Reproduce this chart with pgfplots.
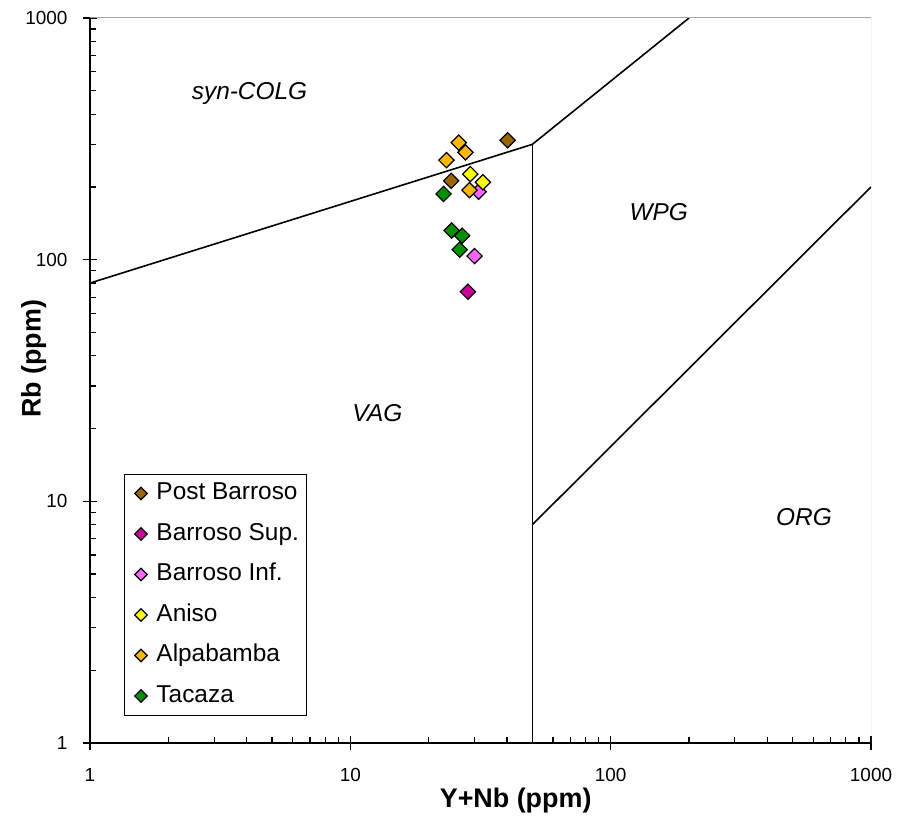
\documentclass[border=0pt]{standalone}
\usepackage{fontspec}
\setmainfont{Liberation Sans}
\usepackage{pgfplots}
\pgfplotsset{compat=1.18}

\definecolor{cpost}{HTML}{996600}
\definecolor{csup}{HTML}{CC0099}
\definecolor{cinf}{HTML}{FF66FF}
\definecolor{caniso}{HTML}{FFFF00}
\definecolor{calpa}{HTML}{FFB800}
\definecolor{ctaca}{HTML}{009000}

\pgfplotsset{
  pt/.style={only marks, mark=square*, mark size=5.4bp,
    mark options={rotate=45, draw=black, line width=1.2bp, fill=#1}},
}

\begin{document}
\begin{tikzpicture}
\useasboundingbox (-90bp,-82bp) rectangle (808bp,743bp);
\begin{axis}[
  at={(0,0)}, anchor=south west,
  scale only axis, width=781bp, height=725bp,
  xmode=log, ymode=log,
  xmin=1, xmax=1000, ymin=1, ymax=1000,
  axis x line*=bottom, axis y line*=left,
  axis line style={line width=1.6bp, -},
  xtick={1,10,100,1000}, xticklabels={1,10,100,1000},
  ytick={1,10,100,1000}, yticklabels={1,10,100,1000},
  minor xtick={2,3,4,5,6,7,8,9,20,30,40,50,60,70,80,90,200,300,400,500,600,700,800,900},
  minor ytick={2,3,4,5,6,7,8,9,20,30,40,50,60,70,80,90,200,300,400,500,600,700,800,900},
  tick align=inside,
  major tick length=7bp, minor tick length=6bp,
  tick style={line width=1.2bp, black},
  extra x ticks={1,10,100,1000}, extra x tick labels={},
  extra y ticks={1,10,100,1000}, extra y tick labels={},
  extra tick style={tick align=outside, major tick length=7bp},
  ticklabel style={font=\fontsize{19}{22}\selectfont},
  xticklabel style={yshift=-22bp},
  yticklabel style={xshift=-19bp},
  xlabel={Y+Nb (ppm)}, ylabel={Rb (ppm)},
  label style={font=\bfseries\fontsize{27}{30}\selectfont},
  xlabel style={at={(axis description cs:0.545,-0.08)}, anchor=center},
  ylabel style={at={(axis description cs:-0.072,0.53)}, anchor=center},
  legend style={at={(axis description cs:0.0435,0.371)}, anchor=north west,
    draw=black, line width=1bp, inner sep=6bp, row sep=14.5bp,
    font=\fontsize{24.5}{27}\selectfont,
    nodes={inner sep=2bp, text height=17bp, text depth=5bp}},
  legend cell align=left,
  legend image code/.code={%
    \path (0bp,0bp) (23bp,0bp);
    \draw[#1, mark size=4.4bp] plot coordinates {(10bp,0bp)};},
]
\addplot[black, line width=1.6bp, forget plot] coordinates {(1,80) (50,300) (200,1000)};
\addplot[black, line width=1.6bp, forget plot] coordinates {(50,1) (50,300)};
\addplot[black, line width=1.6bp, forget plot] coordinates {(50,8) (1000,200)};

\addplot[pt=cpost] coordinates {(40.2,312) (24.4,212)};
\addlegendentry{Post Barroso}
\addplot[pt=csup] coordinates {(28.3,73.7)};
\addlegendentry{Barroso Sup.}
\addplot[pt=cinf] coordinates {(31.1,191) (30.0,103.5)};
\addlegendentry{Barroso Inf.}
\addplot[pt=caniso] coordinates {(28.9,226) (32.3,209)};
\addlegendentry{Aniso}
\addplot[pt=calpa] coordinates {(26.1,305) (27.7,278) (23.4,258) (28.7,194)};
\addlegendentry{Alpabamba}
\addplot[pt=ctaca] coordinates {(22.8,187) (24.5,132) (26.9,125.6) (26.3,110)};
\addlegendentry{Tacaza}

\draw[gray!70, line width=1bp] (rel axis cs:0,1) -- (rel axis cs:1,1) -- (rel axis cs:1,0);

\node[font=\itshape\fontsize{24.5}{28}\selectfont] at (axis cs:4.1,489) {syn-COLG};
\node[font=\itshape\fontsize{24.5}{28}\selectfont] at (axis cs:153,157) {WPG};
\node[font=\itshape\fontsize{24.5}{28}\selectfont] at (axis cs:12.7,23.2) {VAG};
\node[font=\itshape\fontsize{24.5}{28}\selectfont] at (axis cs:553,8.6) {ORG};
\end{axis}
\end{tikzpicture}
\end{document}
